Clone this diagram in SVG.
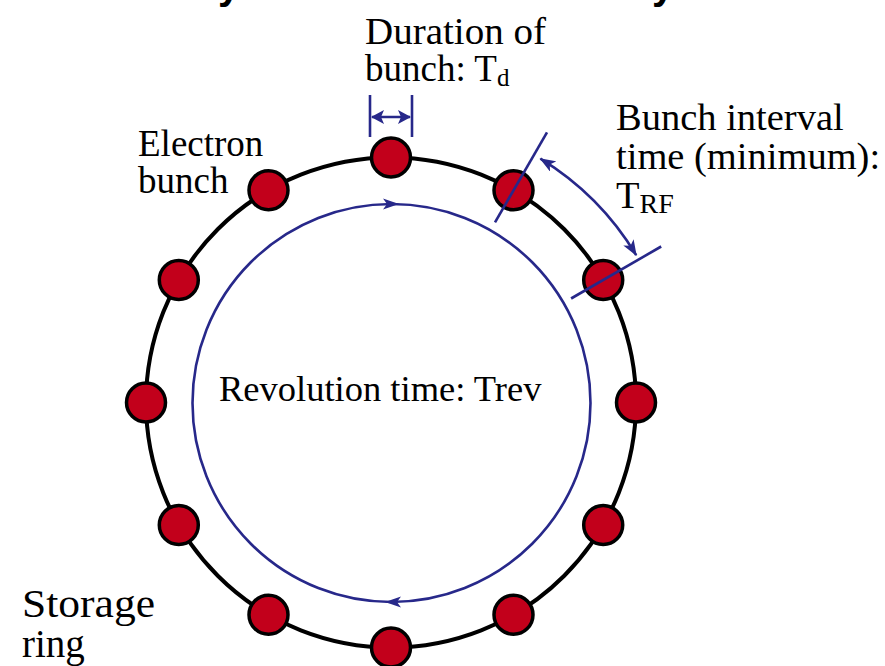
<svg xmlns="http://www.w3.org/2000/svg" width="885" height="666" viewBox="0 0 885 666">
  <style>
    .lbl { font-family: "Liberation Serif", "Times New Roman", serif; fill: #000; }
    .title { font-family: "Liberation Sans", Arial, sans-serif; font-weight: bold; fill: #000; }
    .bunch { fill: #c2001b; stroke: #000; stroke-width: 3.5; }
    .ring { fill: none; stroke: #000; stroke-width: 4; }
    .blue { fill: none; stroke: #27288a; stroke-width: 2.6; }
    .bluefill { fill: #27288a; stroke: none; }
  </style>
  <defs>
    <marker id="ah" viewBox="0 0 16 12" refX="15" refY="6" markerWidth="16" markerHeight="12" markerUnits="userSpaceOnUse" orient="auto-start-reverse">
      <path d="M0,0 L16,6 L0,12 L4,6 z" fill="#27288a"/>
    </marker>
    <marker id="ahs" viewBox="0 0 13 14" refX="12" refY="7" markerWidth="13" markerHeight="14" markerUnits="userSpaceOnUse" orient="auto-start-reverse">
      <path d="M0,0 L13,7 L0,14 L3,7 z" fill="#27288a"/>
    </marker>
  </defs>

  <!-- cut-off title fragments (the title lies above the picture's top edge) -->
  <text class="title" x="218" y="-1" font-size="40">y</text>
  <text class="title" x="652" y="-1" font-size="40">y</text>

  <!-- storage ring -->
  <g id="ring">
    <circle class="ring" cx="391" cy="402.5" r="245"/>
  </g>

  <!-- revolution path -->
  <g id="revolution">
    <circle class="blue" cx="391.5" cy="403" r="199"/>
    <path class="bluefill" d="M399,204 L383,198.5 L387,204 L383,209.5 z"/>
    <path class="bluefill" d="M385,602 L401,596.5 L397,602 L401,607.5 z"/>
  </g>

  <!-- bunches -->
  <g id="bunch-0"><circle class="bunch" cx="391" cy="157.5" r="19.5"/></g>
  <g id="bunch-1"><circle class="bunch" cx="513.5" cy="190.3" r="19.5"/></g>
  <g id="bunch-2"><circle class="bunch" cx="603.2" cy="280" r="19.5"/></g>
  <g id="bunch-3"><circle class="bunch" cx="636" cy="402.5" r="19.5"/></g>
  <g id="bunch-4"><circle class="bunch" cx="603.2" cy="525" r="19.5"/></g>
  <g id="bunch-5"><circle class="bunch" cx="513.5" cy="614.7" r="19.5"/></g>
  <g id="bunch-6"><circle class="bunch" cx="391" cy="647.5" r="19.5"/></g>
  <g id="bunch-7"><circle class="bunch" cx="268.5" cy="614.7" r="19.5"/></g>
  <g id="bunch-8"><circle class="bunch" cx="178.8" cy="525" r="19.5"/></g>
  <g id="bunch-9"><circle class="bunch" cx="146" cy="402.5" r="19.5"/></g>
  <g id="bunch-10"><circle class="bunch" cx="178.8" cy="280" r="19.5"/></g>
  <g id="bunch-11"><circle class="bunch" cx="268.5" cy="190.3" r="19.5"/></g>

  <!-- connectors / dimension markings -->
  <g id="connectors">
    <line class="blue" x1="370" y1="95" x2="370" y2="137" stroke-width="3"/>
    <line class="blue" x1="412" y1="95" x2="412" y2="137" stroke-width="3"/>
    <line class="blue" x1="372" y1="117" x2="410" y2="117" stroke-width="3" marker-start="url(#ahs)" marker-end="url(#ahs)"/>
    <line class="blue" x1="495" y1="222.4" x2="547" y2="132.3"/>
    <line class="blue" x1="571.1" y1="298.5" x2="661.2" y2="246.5"/>
    <path class="blue" d="M540.4,158.7 A286,286 0 0 1 636.2,255.2" marker-start="url(#ah)" marker-end="url(#ah)"/>
  </g>

  <!-- labels -->
  <g id="label-duration">
    <text class="lbl" x="365" y="44" font-size="37" textLength="181" lengthAdjust="spacingAndGlyphs">Duration of</text>
    <text class="lbl" x="365" y="81" font-size="37">bunch: T<tspan font-size="25" dy="5">d</tspan></text>
  </g>
  <g id="label-interval">
    <text class="lbl" x="616" y="130" font-size="38.5">Bunch interval</text>
    <text class="lbl" x="616" y="169" font-size="38.5">time (minimum):</text>
    <text class="lbl" x="616" y="208" font-size="38.5">T<tspan font-size="28" dy="5">RF</tspan></text>
  </g>
  <g id="label-electron">
    <text class="lbl" x="138" y="156" font-size="37">Electron</text>
    <text class="lbl" x="138" y="193" font-size="37">bunch</text>
  </g>
  <g id="label-revolution">
    <text class="lbl" x="219" y="401" font-size="36.5">Revolution time: Trev</text>
  </g>
  <g id="label-storage">
    <text class="lbl" x="22" y="617" font-size="39" textLength="133" lengthAdjust="spacingAndGlyphs">Storage</text>
    <text class="lbl" x="22" y="657" font-size="39">ring</text>
  </g>
</svg>
